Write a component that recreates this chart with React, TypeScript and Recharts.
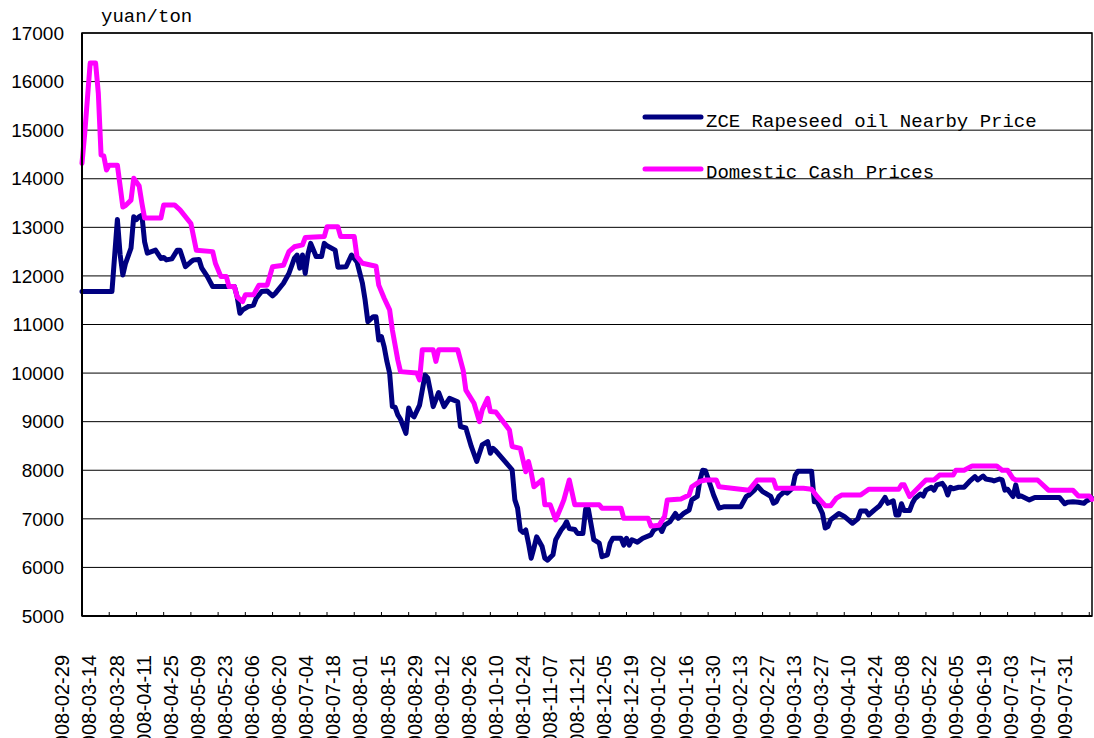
import { LineChart, Line, XAxis, YAxis, CartesianGrid, Legend, ReferenceArea } from 'recharts'

// trading-day index 0 = 2008-02-29, one label every 10 trading days
const DATE_LABELS = [
  '2008-02-29', '2008-03-14', '2008-03-28', '2008-04-11', '2008-04-25', '2008-05-09',
  '2008-05-23', '2008-06-06', '2008-06-20', '2008-07-04', '2008-07-18', '2008-08-01',
  '2008-08-15', '2008-08-29', '2008-09-12', '2008-09-26', '2008-10-10', '2008-10-24',
  '2008-11-07', '2008-11-21', '2008-12-05', '2008-12-19', '2009-01-02', '2009-01-16',
  '2009-01-30', '2009-02-13', '2009-02-27', '2009-03-13', '2009-03-27', '2009-04-10',
  '2009-04-24', '2009-05-08', '2009-05-22', '2009-06-05', '2009-06-19', '2009-07-03',
  '2009-07-17', '2009-07-31',
]

const Y_TICKS = [5000, 6000, 7000, 8000, 9000, 10000, 11000, 12000, 13000, 14000, 15000, 16000, 17000]

const SERIES_NAMES = ['ZCE Rapeseed oil Nearby Price', 'Domestic Cash Prices']

// [trading day, yuan/ton]
const ZCE_POINTS: [number, number][] = [
  [0, 11680], [11, 11680], [13, 13160], [14, 12440], [15, 12020], [16, 12260], [18, 12570],
  [19, 13220], [20, 13160], [21, 13220], [22, 13250], [23, 12700], [24, 12470], [27, 12530],
  [29, 12360], [30, 12380], [31, 12330], [33, 12350], [35, 12530], [36, 12530], [37, 12360],
  [38, 12190], [40, 12290], [41, 12330], [43, 12340], [44, 12160], [46, 11990], [48, 11780],
  [56, 11780], [57, 11570], [58, 11230], [59, 11300], [61, 11370], [63, 11400], [64, 11540],
  [66, 11680], [68, 11690], [70, 11590], [71, 11640], [74, 11850], [76, 12050], [78, 12360],
  [79, 12430], [80, 12160], [81, 12430], [82, 12050], [83, 12450], [84, 12670], [86, 12400],
  [88, 12400], [89, 12670], [90, 12620], [93, 12530], [94, 12180], [97, 12190], [99, 12430],
  [101, 12290], [103, 11850], [104, 11500], [105, 11060], [107, 11160], [108, 11160], [109, 10680],
  [110, 10750], [111, 10540], [112, 10240], [113, 10000], [114, 9310], [115, 9300], [116, 9140],
  [117, 9050], [119, 8760], [120, 9280], [121, 9150], [122, 9100], [124, 9340], [126, 9960],
  [127, 9900], [128, 9620], [129, 9310], [131, 9600], [133, 9310], [135, 9480], [138, 9410],
  [139, 8900], [141, 8870], [143, 8490], [145, 8180], [147, 8520], [149, 8590], [150, 8350],
  [151, 8450], [152, 8400], [158, 8010], [159, 7390], [160, 7220], [161, 6770], [162, 6720],
  [163, 6770], [164, 6500], [165, 6190], [166, 6400], [167, 6630], [169, 6430], [170, 6190],
  [171, 6150], [173, 6260], [174, 6570], [176, 6770], [177, 6840], [178, 6940], [179, 6800],
  [181, 6780], [182, 6700], [184, 6700], [185, 7200], [186, 7200], [188, 6570], [190, 6500],
  [191, 6220], [193, 6260], [194, 6500], [195, 6600], [198, 6600], [199, 6460], [200, 6600],
  [201, 6460], [202, 6570], [204, 6520], [206, 6600], [209, 6670], [210, 6770], [212, 6840],
  [213, 6740], [214, 6870], [216, 6940], [218, 7110], [219, 7010], [221, 7110], [223, 7180],
  [224, 7390], [226, 7460], [227, 7800], [228, 8000], [229, 7990], [231, 7660], [232, 7490],
  [234, 7220], [236, 7250], [242, 7250], [244, 7460], [245, 7490], [247, 7590], [248, 7680],
  [250, 7560], [251, 7530], [253, 7460], [254, 7320], [255, 7350], [256, 7460], [258, 7560],
  [259, 7530], [261, 7630], [262, 7900], [263, 7980], [268, 7980], [269, 7350], [270, 7350],
  [272, 7110], [273, 6810], [274, 6840], [275, 6980], [278, 7110], [280, 7050], [283, 6910],
  [285, 7000], [286, 7160], [288, 7160], [289, 7080], [291, 7180], [293, 7270], [295, 7440],
  [296, 7320], [298, 7370], [299, 7080], [300, 7080], [301, 7310], [302, 7170], [304, 7170],
  [305, 7320], [306, 7420], [308, 7510], [309, 7470], [310, 7590], [312, 7650], [313, 7590],
  [314, 7700], [316, 7730], [317, 7650], [318, 7490], [319, 7650], [320, 7620], [322, 7650],
  [324, 7650], [326, 7770], [328, 7870], [329, 7800], [331, 7880], [332, 7820], [334, 7800],
  [335, 7780], [337, 7820], [338, 7800], [339, 7590], [340, 7610], [342, 7460], [343, 7700],
  [344, 7460], [345, 7470], [348, 7390], [350, 7440], [359, 7440], [361, 7310], [362, 7340],
  [364, 7350], [366, 7340], [368, 7320], [369, 7370], [371, 7420],
]

const CASH_POINTS: [number, number][] = [
  [0, 14320], [1, 14930], [3, 16380], [5, 16380], [6, 15760], [7, 14490], [8, 14470],
  [9, 14180], [10, 14280], [13, 14280], [15, 13420], [16, 13450], [18, 13560], [19, 14010],
  [21, 13850], [22, 13500], [23, 13190], [29, 13190], [30, 13460], [34, 13460], [36, 13360],
  [40, 13080], [42, 12530], [48, 12500], [49, 12260], [51, 11990], [53, 11990], [54, 11780],
  [56, 11780], [57, 11570], [59, 11470], [60, 11610], [63, 11610], [65, 11810], [68, 11810],
  [70, 12190], [74, 12220], [76, 12500], [78, 12600], [81, 12640], [82, 12790], [89, 12810],
  [90, 13010], [94, 13010], [95, 12810], [100, 12810], [101, 12400], [103, 12260], [108, 12200],
  [109, 11810], [111, 11540], [113, 11300], [114, 10890], [116, 10270], [117, 10030], [123, 10000],
  [124, 9860], [125, 10480], [129, 10480], [130, 10240], [131, 10480], [138, 10480], [140, 10060],
  [141, 9650], [144, 9380], [146, 9000], [147, 9240], [149, 9480], [150, 9210], [152, 9200],
  [157, 8830], [158, 8490], [161, 8450], [163, 7970], [164, 8180], [165, 7950], [166, 7660],
  [169, 7800], [170, 7290], [172, 7290], [174, 6980], [176, 7250], [177, 7390], [179, 7800],
  [181, 7290], [190, 7290], [191, 7220], [198, 7220], [199, 7010], [208, 7010], [209, 6850],
  [212, 6870], [214, 7050], [215, 7390], [220, 7410], [223, 7490], [224, 7660], [227, 7770],
  [229, 7800], [233, 7800], [234, 7660], [245, 7590], [248, 7800], [254, 7800], [255, 7630],
  [265, 7630], [268, 7610], [270, 7460], [273, 7270], [275, 7270], [277, 7420], [279, 7490],
  [286, 7490], [289, 7610], [300, 7610], [301, 7700], [302, 7700], [304, 7460], [307, 7630],
  [310, 7800], [313, 7800], [315, 7900], [320, 7900], [321, 8000], [324, 8000], [327, 8090],
  [336, 8090], [338, 8000], [340, 8000], [342, 7830], [343, 7800], [351, 7800], [355, 7590],
  [364, 7590], [366, 7470], [370, 7470], [371, 7400],
]

const zceData = ZCE_POINTS.map(([day, price]) => ({ day, price }))
const cashData = CASH_POINTS.map(([day, price]) => ({ day, price }))
const dayTicks = DATE_LABELS.map((_, i) => i * 10)

const SANS = 'Liberation Sans, Arial, sans-serif'
const MONO = 'Liberation Mono, Courier New, monospace'

function DateTick(props: any) {
  const { x, y, payload } = props
  const i = Math.round(payload.value / 10)
  // excel drifts the rotated labels a little left of their tick marks
  const cx = x - 19.6 - 0.13 * i
  const top = y + 39
  return (
    <g>
      <line x1={x} y1={y} x2={x} y2={y - 4} stroke="#000" />
      <text
        x={cx}
        y={top}
        transform={`rotate(-90 ${cx} ${top})`}
        textAnchor="end"
        dominantBaseline="central"
        fontSize={20}
        fontFamily={SANS}
        fill="#000"
      >
        {DATE_LABELS[i]}
      </text>
    </g>
  )
}

function LegendBox(props: any) {
  const items = [...(props.payload ?? [])].sort(
    (a: any, b: any) => SERIES_NAMES.indexOf(a.value) - SERIES_NAMES.indexOf(b.value),
  )
  return (
    <svg width={420} height={90} style={{ display: 'block' }}>
      {items.map((p: any, i: number) => (
        <g key={p.value}>
          <line
            x1={5}
            x2={61}
            y1={17 + i * 52}
            y2={17 + i * 52}
            stroke={p.color}
            strokeWidth={5}
            strokeLinecap="round"
          />
          <text x={66} y={27 + i * 51} fontSize={19} fontFamily={MONO} fill="#000">
            {p.value}
          </text>
        </g>
      ))}
    </svg>
  )
}

export default function App() {
  return (
    <div style={{ position: 'absolute', left: 0, top: 0, width: 1094, height: 738, background: '#fff' }}>
      <LineChart width={1094} height={738} margin={{ top: 33, right: 2, bottom: 0, left: 0 }}>
        <CartesianGrid vertical={false} stroke="#000" />
        <XAxis
          type="number"
          dataKey="day"
          domain={[0, 371]}
          ticks={dayTicks}
          interval={0}
          tick={<DateTick />}
          tickLine={false}
          tickSize={0}
          tickMargin={0}
          axisLine={{ stroke: '#000', strokeWidth: 2 }}
          height={122}
        />
        <YAxis
          domain={[5000, 17000]}
          ticks={Y_TICKS}
          interval={0}
          width={82}
          tickLine={false}
          tickSize={0}
          tickMargin={18}
          axisLine={{ stroke: '#000', strokeWidth: 2 }}
          tick={{ fontSize: 19, fill: '#000', fontFamily: SANS }}
        />
        <ReferenceArea x1={0} x2={371} y1={5000} y2={17000} fill="none" stroke="#000" strokeWidth={1.5} />
        <Legend
          layout="vertical"
          align="center"
          verticalAlign="middle"
          content={<LegendBox />}
          wrapperStyle={{ left: 640, top: 100, width: 420, height: 90 }}
        />
        <Line
          data={zceData}
          dataKey="price"
          name={SERIES_NAMES[0]}
          type="linear"
          stroke="#000080"
          strokeWidth={5}
          strokeLinejoin="round"
          strokeLinecap="round"
          dot={false}
          isAnimationActive={false}
        />
        <Line
          data={cashData}
          dataKey="price"
          name={SERIES_NAMES[1]}
          type="linear"
          stroke="#ff00ff"
          strokeWidth={5}
          strokeLinejoin="round"
          strokeLinecap="round"
          dot={false}
          isAnimationActive={false}
        />
      </LineChart>
      <div
        style={{
          position: 'absolute',
          left: 101,
          top: 8,
          fontFamily: MONO,
          fontSize: 19,
          lineHeight: '19px',
          color: '#000',
        }}
      >
        yuan/ton
      </div>
    </div>
  )
}
